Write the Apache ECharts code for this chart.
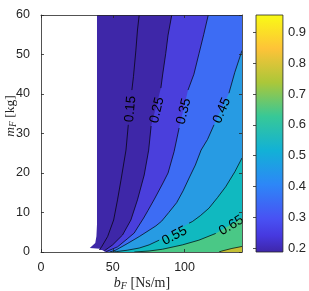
<!DOCTYPE html>
<html><head><meta charset="utf-8">
<script src="https://cdn.jsdelivr.net/npm/echarts@6/dist/echarts.min.js"></script>
<style>html,body{margin:0;padding:0;background:#fff}#c{width:309px;height:291px}</style>
</head><body><div id="c"></div>
<script>
// ---- data ----
const xTicks = [0, 50, 100];
const yTicks = [0, 10, 20, 30, 40, 50, 60];
const cbTicks = [0.2, 0.3, 0.4, 0.5, 0.6, 0.7, 0.8, 0.9];
const cbRange = [0.188, 0.956];
const xRange = [0, 140];
const yRange = [0, 60];
const levels = [0.15, 0.25, 0.35, 0.45, 0.55, 0.65, 0.75];
// region where data exists (b_F, m_F)
const domain = [[39,60],[39,7],[38.6,4],[37.8,2.3],[34,1.0],[41,0.8],[45,0],[140,0],[140,60]];
// contour lines [b_F, m_F]; null marks the gap left for the inline label
const c015 = [[68.4,60],[67.2,56.2],[66.1,51.1],[64.4,44.4],[63.3,41],null,[60.8,32.2],[59.2,25.8],[55.7,18.2],[53.3,13.2],[50.6,8.1],[46.4,3.9],[42.2,1.3],[40.6,0.5]];
const c025 = [[91.1,60],[88.5,54.9],[86.9,50.3],[84.7,44.8],[83.5,41.5],null,[76.7,31.9],[75,25.8],[71.9,19.5],[67.2,13.2],[62.6,8.1],[56.8,4.3],[49.9,1.8],[44.1,0.3]];
const c035 = [[116.5,60],[113.3,55],[110.1,50.3],[106.5,45],[102.4,41],null,[96.2,31.4],[92.7,25.4],[88.5,20],[85,17.5],[79,13.4],[74.5,10.5],[71.5,8.6],[68,6.6],[64.9,4.8],[60,3.3],[53.3,1.3],[45.5,0.1]];
const c045 = [[140,51],[135,45.5],[130.9,40.2],null,[120.5,32.2],[116,28.5],[111.5,25.8],[107.5,22],[103.5,19],[99,15.5],[94.5,12.5],[89,10],[84,7.8],[80,6.6],[75.3,5.5],[68.4,3.9],[60,2.1],[52.2,0.5],[48,0]];
const c055 = [[140,23.8],[135,20.3],[128.6,16.5],[123,13.8],[117,11.1],[111,9.2],[105.4,7.7],[103.1,7.3],null,[82.3,3.0],[75.3,1.8],[68.4,1.0],[60,0.45],[52.5,0.1],[50,0]];
const c065 = [[140,8.6],null,[121.7,4.7],[110,3.0],[98.5,1.8],[84.6,0.7],[75.3,0.25],[65,0]];
const c075 = [[140,1.4],[133,0.9],[126,0.25],[124,0]];
const contours = [c015, c025, c035, c045, c055, c065, c075];
// inline contour labels
const labelLevels = [0.15, 0.25, 0.35, 0.45, 0.55, 0.65];
const labelAt = [[62.3,36.2],[80.8,35.9],[99.5,35.6],[126,35.8],[93,4.1],[132.6,6.7]];
const labelAngle = [85, 77, 76, 67, 28, 31];

// ---- styles ----
const domainColor = '#3e27a8';
const bandColors = ['#3e27a8', '#4a3fdc', '#3d6cf4', '#279be3', '#10b9c0', '#4ac886', '#c4bf34'];
const parula = [[0,'#3e26a8'],[0.07,'#4639df'],[0.1429,'#4852f4'],[0.2857,'#2d87f7'],[0.4286,'#12b1d6'],[0.5714,'#37c897'],[0.7143,'#abc739'],[0.8571,'#fec338'],[1,'#f9fb15']];
const axisColor = '#262626';
const numFont = 'Liberation Sans, Arial, sans-serif';
const serif = 'Liberation Serif, Times New Roman, serif';

function fillPoly(k) {
  const pts = contours[k].filter(p => p);
  pts.push([xRange[1], yRange[0]]);
  if (pts[0][1] >= yRange[1]) pts.push([xRange[1], yRange[1]]);
  return pts;
}

const chart = echarts.init(document.getElementById('c'), null, {renderer: 'canvas'});
const axCommon = {
  type: 'value', splitLine: {show: false}, z: 10,
  axisLine: {show: true, onZero: false, lineStyle: {color: axisColor, width: 0.8}},
  axisTick: {show: true, inside: true, length: 3, lineStyle: {color: axisColor, width: 0.8}}
};
chart.setOption({
  animation: false,
  grid: [
    {left: 41, top: 15, width: 201, height: 237},
    {left: 256, top: 15, width: 28, height: 237}
  ],
  xAxis: [
    Object.assign({}, axCommon, {gridIndex: 0, position: 'bottom', min: xRange[0], max: xRange[1],
      axisTick: Object.assign({}, axCommon.axisTick, {customValues: xTicks}),
      axisLabel: {customValues: xTicks, color: axisColor, fontSize: 12.5, fontFamily: numFont, margin: 9}}),
    Object.assign({}, axCommon, {gridIndex: 0, position: 'top', min: xRange[0], max: xRange[1],
      axisTick: Object.assign({}, axCommon.axisTick, {customValues: xTicks}),
      axisLabel: {show: false}}),
    {type: 'value', gridIndex: 1, min: 0, max: 1, show: false}
  ],
  yAxis: [
    Object.assign({}, axCommon, {gridIndex: 0, position: 'left', min: yRange[0], max: yRange[1], interval: 10,
      axisLabel: {color: axisColor, fontSize: 12.5, fontFamily: numFont, margin: 11}}),
    Object.assign({}, axCommon, {gridIndex: 0, position: 'right', min: yRange[0], max: yRange[1], interval: 10,
      axisLabel: {show: false}}),
    Object.assign({}, axCommon, {gridIndex: 1, position: 'right', min: cbRange[0], max: cbRange[1],
      axisLine: {show: false},
      axisTick: Object.assign({}, axCommon.axisTick, {customValues: cbTicks}),
      axisLabel: {customValues: cbTicks, formatter: v => v.toFixed(1), color: axisColor, fontSize: 13, fontFamily: numFont, margin: 5}})
  ],
  graphic: [
    {type: 'text', x: 142, y: 283, z: 20,
      style: {text: '{i|b}{s|F}{n| [Ns/m]}', align: 'center', verticalAlign: 'middle',
        rich: {
          i: {fontFamily: serif, fontStyle: 'italic', fontSize: 14, lineHeight: 16, fill: axisColor},
          s: {fontFamily: serif, fontStyle: 'italic', fontSize: 10, lineHeight: 10, verticalAlign: 'bottom', fill: axisColor},
          n: {fontFamily: serif, fontSize: 14, lineHeight: 16, fill: axisColor}
        }}},
    {type: 'text', x: 10.5, y: 116, rotation: Math.PI / 2, z: 20,
      style: {text: '{i|m}{s|F}{n| [kg]}', align: 'center', verticalAlign: 'middle',
        rich: {
          i: {fontFamily: serif, fontStyle: 'italic', fontSize: 13.5, lineHeight: 16, fill: axisColor},
          s: {fontFamily: serif, fontStyle: 'italic', fontSize: 9.5, lineHeight: 10, verticalAlign: 'bottom', fill: axisColor},
          n: {fontFamily: serif, fontSize: 13.5, lineHeight: 16, fill: axisColor}
        }}}
  ],
  series: [
    { // data domain
      type: 'custom', xAxisIndex: 0, yAxisIndex: 0, z: 1, clip: true, silent: true,
      data: [[0]],
      renderItem: (params, api) => ({type: 'polygon',
        shape: {points: domain.map(p => api.coord(p))}, style: {fill: domainColor}})
    },
    { // filled bands above each level
      type: 'custom', xAxisIndex: 0, yAxisIndex: 0, z: 2, clip: true, silent: true,
      data: levels.map((l, i) => [i]),
      renderItem: (params, api) => {
        const k = api.value(0);
        return {type: 'polygon', shape: {points: fillPoly(k).map(p => api.coord(p))},
          style: {fill: bandColors[k]}};
      }
    },
    { // contour lines
      type: 'custom', xAxisIndex: 0, yAxisIndex: 0, z: 3, clip: true, silent: true,
      data: levels.map((l, i) => [i]),
      renderItem: (params, api) => {
        const k = api.value(0);
        const segs = [[]];
        contours[k].forEach(p => { if (p) segs[segs.length - 1].push(api.coord(p)); else segs.push([]); });
        return {type: 'group', children: segs.filter(s => s.length > 1).map(s => ({
          type: 'polyline', shape: {points: s}, style: {stroke: '#000', lineWidth: 0.7, fill: null}}))};
      }
    },
    { // contour labels
      type: 'custom', xAxisIndex: 0, yAxisIndex: 0, z: 4, clip: false, silent: true,
      data: labelLevels.map((l, i) => [labelAt[i][0], labelAt[i][1], i]),
      renderItem: (params, api) => {
        const i = api.value(2);
        const c = api.coord([api.value(0), api.value(1)]);
        return {type: 'text', x: c[0], y: c[1], rotation: labelAngle[i] * Math.PI / 180,
          style: {text: labelLevels[i].toFixed(2), fontSize: 13.5, fontFamily: numFont, fill: '#000',
            align: 'center', verticalAlign: 'middle'}};
      }
    },
    { // colorbar
      type: 'custom', xAxisIndex: 2, yAxisIndex: 2, z: 2, silent: true,
      data: [[0, cbRange[0], 1, cbRange[1]]],
      renderItem: (params, api) => {
        const p0 = api.coord([api.value(0), api.value(3)]);
        const p1 = api.coord([api.value(2), api.value(1)]);
        return {type: 'rect', shape: {x: p0[0], y: p0[1], width: p1[0] - p0[0], height: p1[1] - p0[1]},
          style: {fill: new echarts.graphic.LinearGradient(0, 1, 0, 0, parula.map(s => ({offset: s[0], color: s[1]}))),
            stroke: axisColor, lineWidth: 0.8}};
      }
    }
  ]
});
</script></body></html>
